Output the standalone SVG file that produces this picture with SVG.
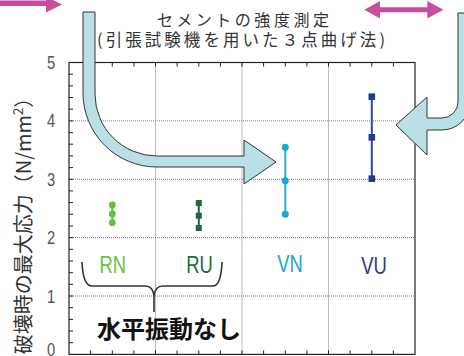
<svg xmlns="http://www.w3.org/2000/svg" width="464" height="356" viewBox="0 0 464 356">
<style>
.grid{stroke:#7a7a7a;stroke-width:1;stroke-dasharray:1 1;fill:none}
.frame{stroke:#222;stroke-width:1.2;fill:none}
.tick{stroke:#222;stroke-width:1;fill:none}
.num{font-family:"Liberation Sans",Arial,sans-serif;font-size:18px;fill:#555;text-anchor:middle}
.jp{font-family:"Noto Sans CJK JP","Noto Sans",sans-serif}
.cat{font-family:"Liberation Sans",Arial,sans-serif;font-size:23px;text-anchor:middle}
.blue{fill:#b9e0e4;stroke:#333;stroke-width:1;stroke-linejoin:miter}
.mag{fill:#c4509d}
</style>
<rect width="464" height="356" fill="#fff"/>
<g id="chart">
  <path class="grid" d="M69,120.9H415M69,179.3H415M69,237.6H415M69,296H415M155.5,62.5V354.4M242,62.5V354.4M328.5,62.5V354.4"/>
  <path class="tick" d="M69,74.2h4M69,85.9h4M69,97.5h4M69,109.2h4M69,120.9h4M69,132.6h4M69,144.2h4M69,155.9h4M69,167.6h4M69,179.3h4M69,190.9h4M69,202.6h4M69,214.3h4M69,226h4M69,237.6h4M69,249.3h4M69,261h4M69,272.7h4M69,284.3h4M69,296h4M69,307.7h4M69,319.4h4M69,331h4M69,342.7h4
  M90.6,62.5v4M112.3,62.5v4M133.9,62.5v4M155.5,62.5v4M177.1,62.5v4M198.8,62.5v4M220.4,62.5v4M242,62.5v4M263.6,62.5v4M285.3,62.5v4M306.9,62.5v4M328.5,62.5v4M350.1,62.5v4M371.8,62.5v4M393.4,62.5v4
  M90.6,354.4v-4M112.3,354.4v-4M133.9,354.4v-4M155.5,354.4v-4M177.1,354.4v-4M198.8,354.4v-4M220.4,354.4v-4M242,354.4v-4M263.6,354.4v-4M285.3,354.4v-4M306.9,354.4v-4M328.5,354.4v-4M350.1,354.4v-4M371.8,354.4v-4M393.4,354.4v-4"/>
  <rect class="frame" x="69" y="62.5" width="346" height="291.9"/>
  <g id="y-ticks">
    <text class="num" transform="translate(51,68.5) scale(0.82,1)">5</text>
    <text class="num" transform="translate(51,127) scale(0.82,1)">4</text>
    <text class="num" transform="translate(51,185.5) scale(0.82,1)">3</text>
    <text class="num" transform="translate(51,244) scale(0.82,1)">2</text>
    <text class="num" transform="translate(51,302.5) scale(0.82,1)">1</text>
    <text class="num" transform="translate(51,356) scale(0.82,1)">0</text>
  </g>
  <text class="jp" transform="translate(31,221) rotate(-90)" font-size="20" fill="#333" text-anchor="middle">破壊時の最大応力（N/mm<tspan font-size="13" dy="-8">2</tspan><tspan dy="8">）</tspan></text>
</g>
<g id="RN">
  <path d="M112.3,205V222.7" stroke="#62c040" stroke-width="2"/>
  <circle cx="112.3" cy="205" r="3.4" fill="#62c040"/>
  <circle cx="112.3" cy="214" r="3.4" fill="#62c040"/>
  <circle cx="112.3" cy="222.7" r="3.4" fill="#62c040"/>
  <text class="cat" fill="#6cbf45" transform="translate(112.8,273) scale(0.8,1)">RN</text>
</g>
<g id="RU">
  <path d="M198.8,203V228" stroke="#1c6a3a" stroke-width="2"/>
  <rect x="195.8" y="200" width="6" height="6" fill="#1c6a3a"/>
  <rect x="195.8" y="212.7" width="6" height="6" fill="#1c6a3a"/>
  <rect x="195.8" y="225" width="6" height="6" fill="#1c6a3a"/>
  <text class="cat" fill="#1d6b3c" transform="translate(199.5,273) scale(0.8,1)">RU</text>
</g>
<g id="VN">
  <path d="M285.3,147.3V214.3" stroke="#35a6cf" stroke-width="2"/>
  <circle cx="285.3" cy="147.3" r="3.5" fill="#1aa7d8"/>
  <circle cx="285.3" cy="180.7" r="3.5" fill="#1aa7d8"/>
  <circle cx="285.3" cy="214.3" r="3.5" fill="#1aa7d8"/>
  <text class="cat" fill="#23a4d6" transform="translate(290,271.5) scale(0.8,1)">VN</text>
</g>
<g id="VU">
  <path d="M371.8,96.7V178.7" stroke="#2b4896" stroke-width="2"/>
  <rect x="368.5" y="93.4" width="6.6" height="6.6" fill="#223b8e"/>
  <rect x="368.5" y="134" width="6.6" height="6.6" fill="#223b8e"/>
  <rect x="368.5" y="175.4" width="6.6" height="6.6" fill="#223b8e"/>
  <text class="cat" fill="#2a3990" transform="translate(374,273.5) scale(0.8,1)">VU</text>
</g>
<g id="brace">
  <path d="M82,262Q83,286 92,286L145,286Q153,286 154,296L154,312M154,296Q155,286 163,286L213,286Q221,286 222,262" fill="none" stroke="#333" stroke-width="1.6"/>
  <text class="jp" x="97" y="338" font-size="24" font-weight="700" fill="#111">水平振動なし</text>
</g>
<g id="title">
  <text class="jp" x="243" y="25.5" font-size="16" fill="#333" text-anchor="middle" textLength="172" lengthAdjust="spacing">セメントの強度測定</text>
  <text class="jp" x="241" y="46" font-size="16.5" fill="#333" text-anchor="middle" textLength="288" lengthAdjust="spacing">(引張試験機を用いた３点曲げ法)</text>
</g>
<g id="connectors">
  <path id="arrow-left-curve" class="blue" d="M83,12V93A74,74 0 0 0 157,167H244V184L276,162L244,140V156H157A62,62 0 0 1 95,94V12Z"/>
  <path id="arrow-right-curve" class="blue" d="M458,13V102A16,16 0 0 1 442,118H427V97L396,125L427,155V130H442A28,28 0 0 0 470,102V13Z"/>
  <path id="arrow-top-left" class="mag" d="M0,0.5H46V-3.5L62,4.5L46,12.5V6H0Z"/>
  <path id="arrow-top-right" class="mag" d="M364.3,9.7L380,1V7.2H427.3V1L443.5,9.7L427.3,18.4V12.2H380V18.4Z"/>
</g>
</svg>
